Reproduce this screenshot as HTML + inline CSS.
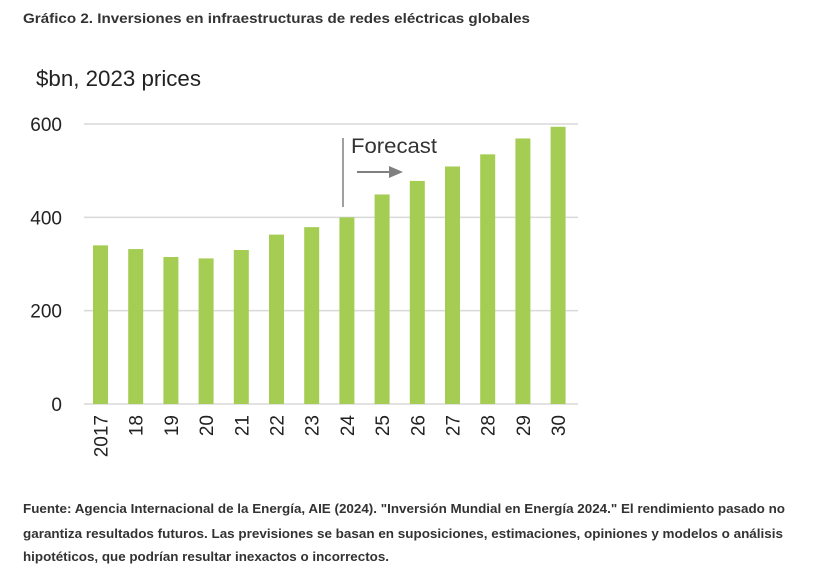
<!DOCTYPE html>
<html><head><meta charset="utf-8"><style>
body{margin:0;background:#fff;}
svg text{font-family:"Liberation Sans",sans-serif;}
</style></head><body>
<svg width="816" height="580" xmlns="http://www.w3.org/2000/svg">
<text x="23" y="23" font-size="14" font-weight="bold" fill="#333" textLength="507" lengthAdjust="spacingAndGlyphs">Gráfico 2. Inversiones en infraestructuras de redes eléctricas globales</text>
<text x="36" y="86" font-size="22" fill="#222" textLength="165" lengthAdjust="spacingAndGlyphs">$bn, 2023 prices</text>
<g id="grid"></g>
<g id="bars"></g>
<g id="xlabels"></g>
<line x1="343" y1="138" x2="343" y2="207" stroke="#808080" stroke-width="1.5"/>
<text x="351" y="153" font-size="21" fill="#333" textLength="86" lengthAdjust="spacingAndGlyphs">Forecast</text>
<g>
<line x1="357" y1="172" x2="390" y2="172" stroke="#808080" stroke-width="2"/>
<polygon points="389,166 403,172 389,178" fill="#808080"/>
</g>
<text x="23" y="513" font-size="13" font-weight="bold" fill="#333" textLength="762" lengthAdjust="spacingAndGlyphs">Fuente: Agencia Internacional de la Energía, AIE (2024). "Inversión Mundial en Energía 2024." El rendimiento pasado no</text>
<text x="23" y="538" font-size="13" font-weight="bold" fill="#333" textLength="760" lengthAdjust="spacingAndGlyphs">garantiza resultados futuros. Las previsiones se basan en suposiciones, estimaciones, opiniones y modelos o análisis</text>
<text x="23" y="561" font-size="13" font-weight="bold" fill="#333" textLength="366" lengthAdjust="spacingAndGlyphs">hipotéticos, que podrían resultar inexactos o incorrectos.</text>
</svg>
<script>
const categories=["2017","18","19","20","21","22","23","24","25","26","27","28","29","30"];
const values=[340,332,315,312,330,363,379,400,449,478,509,535,569,594];
const yTicks=[0,200,400,600];
const NS="http://www.w3.org/2000/svg";
const y0=404,y600=124,x0=100.5,step=35.2,bw=15;
function y(v){return y0-(v/600)*(y0-y600);}
function x(i){return x0+i*step;}
function mk(t,a){const e=document.createElementNS(NS,t);for(const k in a)e.setAttribute(k,a[k]);return e;}
const grid=document.getElementById('grid');
yTicks.forEach(t=>{
  const l=mk('line',{x1:84,x2:578,y1:y(t),y2:y(t),stroke:'#d9d9d9','stroke-width':1.5});
  
  
  grid.appendChild(l);
  const tx=mk('text',{x:62,y:y(t)+7,'font-size':19,fill:'#222','text-anchor':'end'});
  tx.textContent=t;
  
  
  grid.appendChild(tx);
});
const bars=document.getElementById('bars'),xl=document.getElementById('xlabels');
categories.forEach((c,i)=>{
  const r=mk('rect',{x:x(i)-bw/2,y:y(values[i]),width:bw,height:y0-y(values[i]),fill:'#a5cd54'});
  
  
  bars.appendChild(r);
  const t=mk('text',{transform:'translate('+(x(i)+7)+',415) rotate(-90)','font-size':19,fill:'#222','text-anchor':'end'});
  t.textContent=c;
  
  
  xl.appendChild(t);
});
</script>
</body></html>
